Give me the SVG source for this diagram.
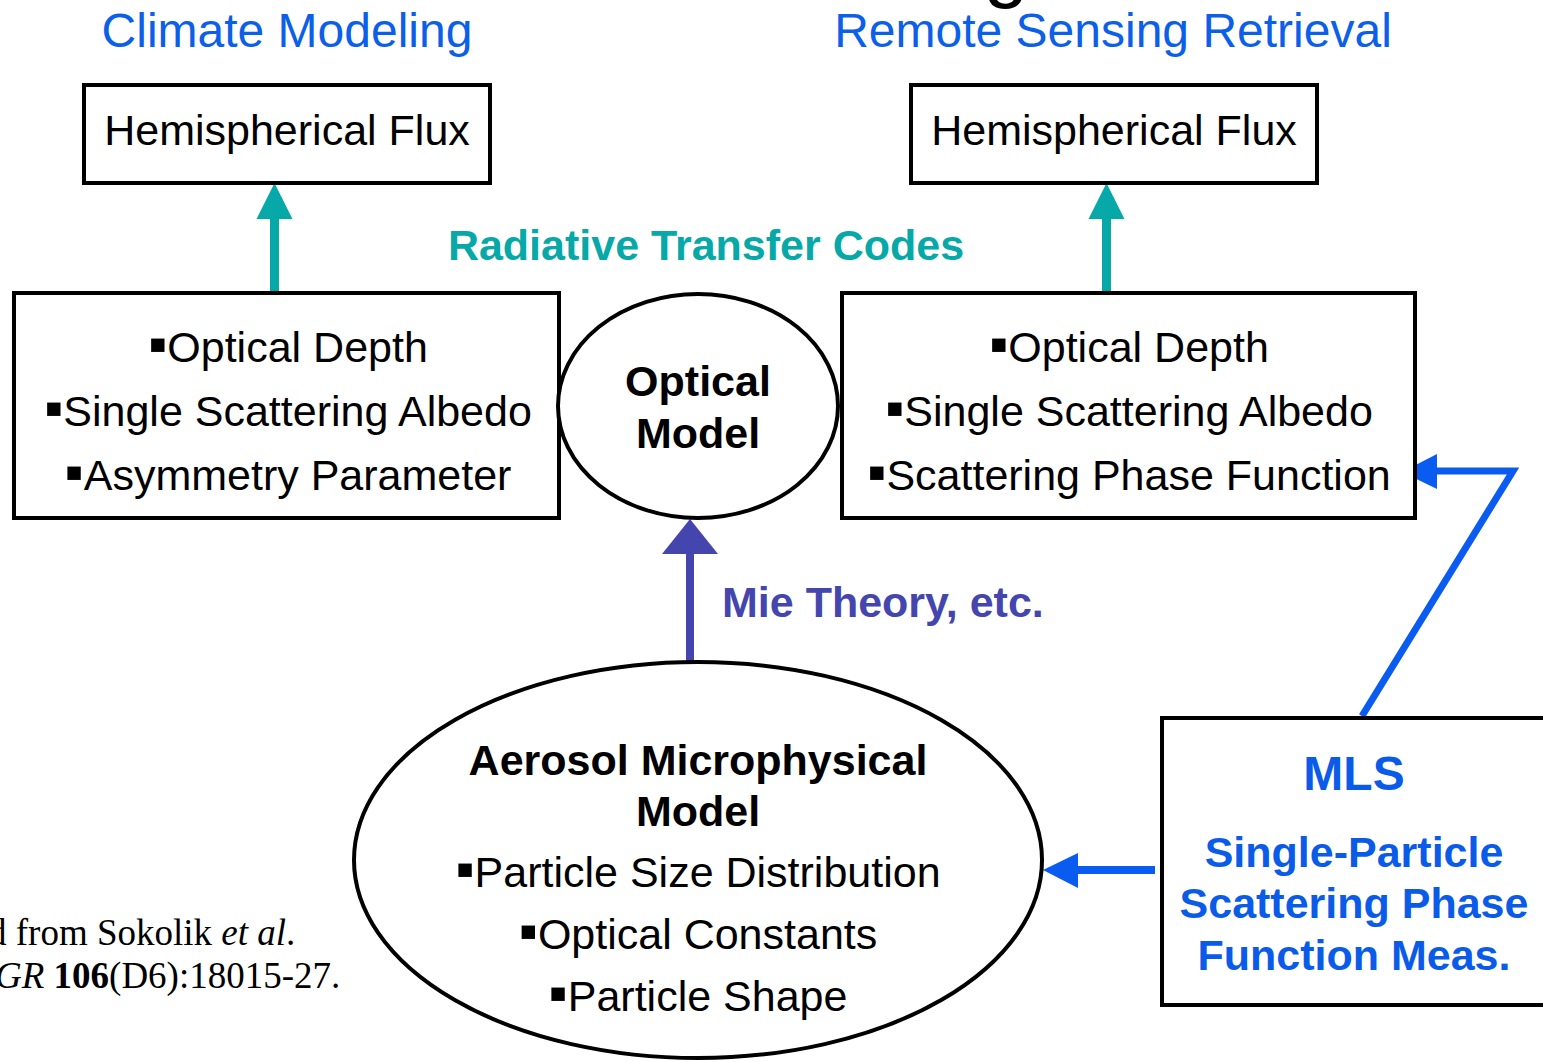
<svg xmlns="http://www.w3.org/2000/svg" width="1543" height="1062" viewBox="0 0 1543 1062">
  <style>
    .sans { font-family: "Liberation Sans", Arial, sans-serif; }
    .serif { font-family: "Liberation Serif", "Times New Roman", serif; }
    .box { fill: #ffffff; stroke: #000000; stroke-width: 4; }
    .head { font-size: 48px; fill: #0B5FE8; text-anchor: middle; }
    .item { font-size: 43px; fill: #000000; text-anchor: middle; }
    .bold { font-weight: bold; }
    .bul { font-size: 54px; }
    .mls { font-size: 43px; font-weight: bold; fill: #0A5CE8; text-anchor: middle; }
    .teal { fill: #06A8A8; }
    .purple { fill: #4446AE; }
    .blue { fill: #0A5CF0; }
  </style>

  <rect x="0" y="0" width="1543" height="1062" fill="#ffffff"/>

  <!-- lower part of the slide title, cut off by the top edge -->
  <text class="sans" x="1006" y="-8" font-size="80" text-anchor="middle" fill="#000000">g</text>

  <!-- column headings -->
  <text class="sans head" x="287" y="47">Climate Modeling</text>
  <text class="sans head" x="1113" y="47">Remote Sensing Retrieval</text>

  <!-- connectors -->
  <g id="connectors">
    <!-- radiative transfer: property boxes to flux boxes -->
    <rect class="teal" x="270" y="216" width="9" height="78"/>
    <polygon class="teal" points="274.5,183 256.5,219 292.5,219"/>
    <rect class="teal" x="1102" y="216" width="9" height="78"/>
    <polygon class="teal" points="1106.5,183 1088.5,219 1124.5,219"/>
    <text class="sans bold teal" x="706" y="260" font-size="43" text-anchor="middle">Radiative Transfer Codes</text>

    <!-- Mie theory: microphysical model to optical model -->
    <rect class="purple" x="686" y="552" width="8" height="110"/>
    <polygon class="purple" points="690,519 662,554 718,554"/>
    <text class="sans bold purple" x="722" y="617" font-size="43">Mie Theory, etc.</text>

    <!-- MLS measurements feeding the two models -->
    <polyline points="1362,716 1513,471 1436,471" fill="none" stroke="#0A5CF0" stroke-width="7" stroke-linejoin="miter"/>
    <polygon class="blue" points="1402,472 1437,454 1437,489"/>
    <rect class="blue" x="1076" y="866" width="79" height="8"/>
    <polygon class="blue" points="1043,870 1078,853 1078,888"/>
  </g>

  <!-- flux outputs -->
  <g id="flux-climate">
    <rect class="box" x="84" y="85" width="406" height="98"/>
    <text class="sans item" x="287" y="145">Hemispherical Flux</text>
  </g>
  <g id="flux-remote">
    <rect class="box" x="911" y="85" width="406" height="98"/>
    <text class="sans item" x="1114" y="145">Hemispherical Flux</text>
  </g>

  <!-- optical properties -->
  <g id="props-climate">
    <rect class="box" x="14" y="293" width="545" height="225"/>
    <text class="sans item" x="288" y="362"><tspan class="bul">▪</tspan>Optical Depth</text>
    <text class="sans item" x="288" y="426"><tspan class="bul">▪</tspan>Single Scattering Albedo</text>
    <text class="sans item" x="288" y="490"><tspan class="bul">▪</tspan>Asymmetry Parameter</text>
  </g>
  <g id="props-remote">
    <rect class="box" x="842" y="293" width="573" height="225"/>
    <text class="sans item" x="1129" y="362"><tspan class="bul">▪</tspan>Optical Depth</text>
    <text class="sans item" x="1129" y="426"><tspan class="bul">▪</tspan>Single Scattering Albedo</text>
    <text class="sans item" x="1129" y="490"><tspan class="bul">▪</tspan>Scattering Phase Function</text>
  </g>

  <!-- optical model -->
  <g id="optical-model">
    <ellipse class="box" cx="698" cy="406" rx="140" ry="112"/>
    <text class="sans item bold" x="698" y="396">Optical</text>
    <text class="sans item bold" x="698" y="448">Model</text>
  </g>

  <!-- aerosol microphysical model -->
  <g id="micro-model">
    <ellipse class="box" cx="698" cy="860" rx="344" ry="198"/>
    <text class="sans item bold" x="698" y="775">Aerosol Microphysical</text>
    <text class="sans item bold" x="698" y="826">Model</text>
    <text class="sans item" x="698" y="887"><tspan class="bul">▪</tspan>Particle Size Distribution</text>
    <text class="sans item" x="698" y="949"><tspan class="bul">▪</tspan>Optical Constants</text>
    <text class="sans item" x="698" y="1011"><tspan class="bul">▪</tspan>Particle Shape</text>
  </g>

  <!-- MLS measurement -->
  <g id="mls">
    <rect class="box" x="1162" y="718" width="400" height="287"/>
    <text class="sans mls" x="1354" y="790" style="font-size:48px">MLS</text>
    <text class="sans mls" x="1354" y="867">Single-Particle</text>
    <text class="sans mls" x="1354" y="918">Scattering Phase</text>
    <text class="sans mls" x="1354" y="970">Function Meas.</text>
  </g>

  <!-- citation, partly cut by the left edge -->
  <g id="citation" class="serif" font-size="37" fill="#000000">
    <text x="-12" y="945">d from Sokolik <tspan font-style="italic">et al</tspan>.</text>
    <text x="-5" y="988"><tspan font-style="italic">GR</tspan> <tspan font-weight="bold">106</tspan>(D6):18015-27.</text>
  </g>
</svg>
